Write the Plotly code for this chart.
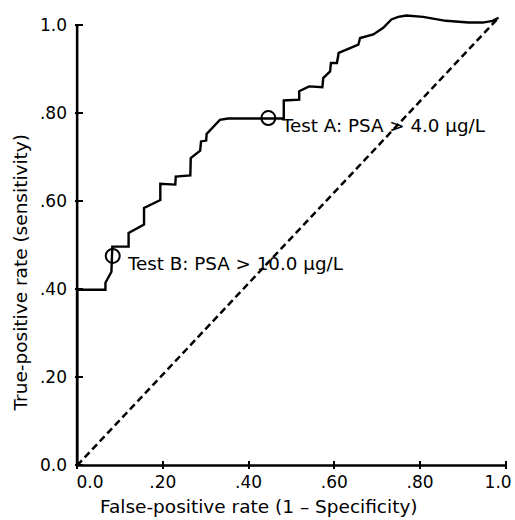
import plotly.graph_objects as go

# ROC curve (false-positive rate, true-positive rate)
fpr = [0.0, 0.0, 0.066, 0.066, 0.080, 0.082, 0.120, 0.120, 0.156, 0.156, 0.194, 0.194,
       0.229, 0.230, 0.264, 0.265, 0.287, 0.289, 0.301, 0.302, 0.333, 0.352, 0.482, 0.482,
       0.518, 0.518, 0.541, 0.572, 0.574, 0.590, 0.592, 0.606, 0.610, 0.656, 0.660, 0.691,
       0.714, 0.733, 0.749, 0.768, 0.807, 0.860, 0.913, 0.946, 0.969, 0.983]
tpr = [0.0, 0.399, 0.399, 0.415, 0.440, 0.497, 0.497, 0.528, 0.547, 0.585, 0.603, 0.640,
       0.638, 0.656, 0.659, 0.698, 0.715, 0.736, 0.738, 0.753, 0.785, 0.788, 0.788, 0.829,
       0.831, 0.850, 0.861, 0.859, 0.880, 0.895, 0.914, 0.914, 0.937, 0.956, 0.971, 0.979,
       0.994, 1.013, 1.019, 1.022, 1.019, 1.010, 1.006, 1.006, 1.010, 1.017]

# chance line
chance_x = [0.0, 0.983]
chance_y = [0.0, 1.017]

# operating points
test_names = ["Test A: PSA > 4.0 µg/L", "Test B: PSA > 10.0 µg/L"]
test_fpr = [0.446, 0.083]
test_tpr = [0.789, 0.476]
label_x = [0.470, 0.112]
label_y = [0.772, 0.459]

tick_vals = [0.0, 0.2, 0.4, 0.6, 0.8, 1.0]
y_tick_text = ["0.0", ".20", ".40", ".60", ".80", "1.0"]
x_label_pos = [0.03, 0.2, 0.4, 0.6, 0.8, 0.982]
x_tick_text = ["0.0", ".20", ".40", ".60", ".80", "1.0"]

FONT = "DejaVu Sans"

fig = go.Figure()
fig.add_trace(go.Scatter(x=chance_x, y=chance_y, mode="lines", xaxis="x2",
                         line=dict(color="black", width=2.5, dash="7px,4px"),
                         hoverinfo="skip", showlegend=False))
fig.add_trace(go.Scatter(x=fpr, y=tpr, mode="lines",
                         line=dict(color="black", width=2.4),
                         showlegend=False))
fig.add_trace(go.Scatter(x=test_fpr, y=test_tpr, mode="markers",
                         marker=dict(symbol="circle-open", size=14, color="black",
                                     line=dict(width=2, color="black")),
                         showlegend=False, cliponaxis=False))

for name, lx, ly in zip(test_names, label_x, label_y):
    fig.add_annotation(x=lx, y=ly, xref="x", yref="y", text=name, showarrow=False,
                       xanchor="left", yanchor="middle",
                       font=dict(family=FONT, size=18.3, color="black"))

fig.add_annotation(x=0.4256, y=-0.082, xref="paper", yref="paper",
                   text="False-positive rate (1 – Specificity)", showarrow=False,
                   xanchor="center", yanchor="middle",
                   font=dict(family=FONT, size=18.5, color="black"))
fig.add_annotation(x=-0.126, y=0.431, xref="paper", yref="paper",
                   text="True-positive rate (sensitivity)", showarrow=False,
                   textangle=-90, xanchor="center", yanchor="middle",
                   font=dict(family=FONT, size=18.5, color="black"))

# axis lines
fig.add_shape(type="line", xref="x", yref="y", x0=0, y0=0, x1=0, y1=1.0,
              line=dict(color="black", width=2.6))
fig.add_shape(type="line", xref="x", yref="y", x0=0, y0=0, x1=1.0, y1=0,
              line=dict(color="black", width=2.6))

fig.update_layout(
    width=515, height=520,
    margin=dict(l=75, r=3, t=12, b=51),
    paper_bgcolor="white", plot_bgcolor="white",
    font=dict(family=FONT, color="black", size=17),
    xaxis=dict(range=[-0.005, 1.005], tickvals=tick_vals, showticklabels=False,
               ticks="inside", ticklen=8, tickwidth=2, tickcolor="black",
               showgrid=False, zeroline=False, showline=False),
    xaxis2=dict(range=[-0.005, 1.005], overlaying="x", side="bottom", anchor="y",
                tickvals=x_label_pos, ticktext=x_tick_text, ticks="",
                showgrid=False, zeroline=False, showline=False,
                ticklabeloverflow="allow", ticklabelstandoff=1,
                tickfont=dict(family=FONT, size=17, color="black")),
    yaxis=dict(range=[-0.008, 1.03], tickvals=tick_vals, ticktext=y_tick_text,
               ticks="inside", ticklen=8, tickwidth=2, tickcolor="black",
               showgrid=False, zeroline=False, showline=False,
               ticklabelstandoff=7,
               tickfont=dict(family=FONT, size=17, color="black")),
)

fig.write_html("out.html")
